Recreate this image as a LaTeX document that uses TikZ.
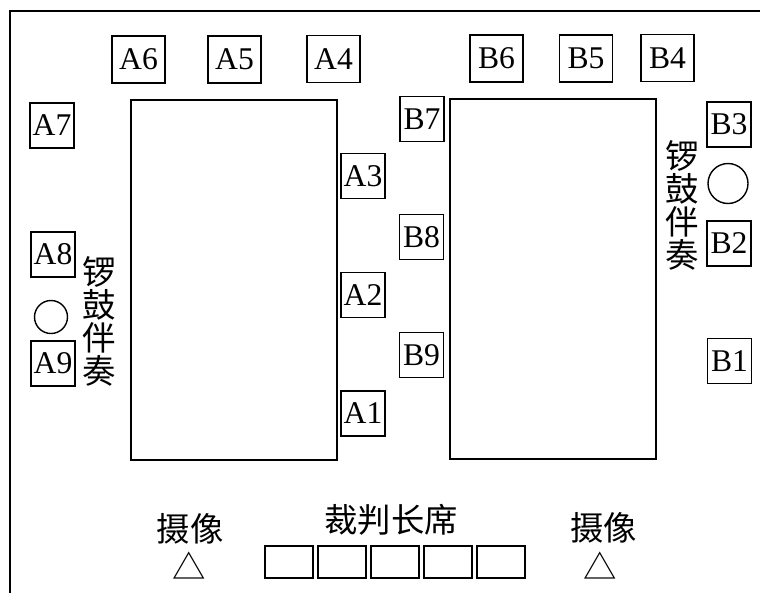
\documentclass[tikz,border=0pt]{standalone}
\usepackage{fontspec}
\setmainfont{Liberation Serif}
\newfontfamily\cjk{Noto Sans CJK SC}
\begin{document}
\begin{tikzpicture}[x=0.02cm, y=-0.02cm,
    seat/.style={draw, thick, minimum width=0.88cm, minimum height=0.9cm, inner sep=0pt, font=\fontsize{18}{20}\selectfont},
    topseat/.style={seat, minimum width=1.06cm, minimum height=0.94cm},
    court/.style={draw, line width=1pt, minimum width=4.12cm, minimum height=7.2cm},
    judge/.style={draw, thick, minimum width=0.96cm, minimum height=0.64cm, inner sep=0pt},
    hanzi/.style={font=\cjk\fontsize{19}{18.7}\selectfont, align=center, inner sep=0pt},
    gong/.style={draw, thick, circle, inner sep=0pt}]
    \useasboundingbox (0,0) rectangle (760,593);

    % Outer frame
    \draw[line width=1pt] (10,593) -- (10,11) -- (760,11);

    % Courts
    \node[court] (courtA) at (234,280) {};
    \node[court] (courtB) at (553,279) {};

    % Team A seats
    \node[topseat] (a6) at (138.5,59.5) {A6};
    \node[topseat] (a5) at (234.5,59.5) {A5};
    \node[topseat] (a4) at (333.5,59) {A4};
    \node[seat] (a7) at (52,125.5) {A7};
    \node[seat] (a8) at (53,254.5) {A8};
    \node[seat] (a9) at (53,363.5) {A9};
    \node[seat] (a3) at (363,176) {A3};
    \node[seat] (a2) at (363,295) {A2};
    \node[seat] (a1) at (363,413.5) {A1};

    % Team B seats
    \node[topseat] (b6) at (496.5,58.5) {B6};
    \node[topseat] (b5) at (586,58.5) {B5};
    \node[topseat] (b4) at (667.5,58) {B4};
    \node[seat] (b7) at (422,119) {B7};
    \node[seat] (b8) at (421.5,237) {B8};
    \node[seat] (b9) at (421.5,355) {B9};
    \node[seat] (b3) at (729,124.5) {B3};
    \node[seat] (b2) at (729,243.5) {B2};
    \node[seat] (b1) at (729.5,361) {B1};

    % Gong and drum accompaniment
    \node[gong, minimum size=0.66cm] (gongA) at (51,317) {};
    \node[hanzi] (musicA) at (99,321.5) {锣\\鼓\\伴\\奏};
    \node[gong, minimum size=0.8cm] (gongB) at (728,183.5) {};
    \node[hanzi] (musicB) at (682.5,205.5) {锣\\鼓\\伴\\奏};

    % Judges' table
    \node[hanzi] (jtitle) at (391,520) {裁判长席};
    \node[judge] (j1) at (289,562) {};
    \node[judge] (j2) at (342,562) {};
    \node[judge] (j3) at (395,562) {};
    \node[judge] (j4) at (448,562) {};
    \node[judge] (j5) at (501,562) {};

    % Cameras
    \node[hanzi] (camA) at (190,529) {摄像};
    \node[hanzi] (camAmark) at (189.5,566) {△};
    \node[hanzi] (camB) at (603.5,528) {摄像};
    \node[hanzi] (camBmark) at (600.5,566) {△};
\end{tikzpicture}
\end{document}
